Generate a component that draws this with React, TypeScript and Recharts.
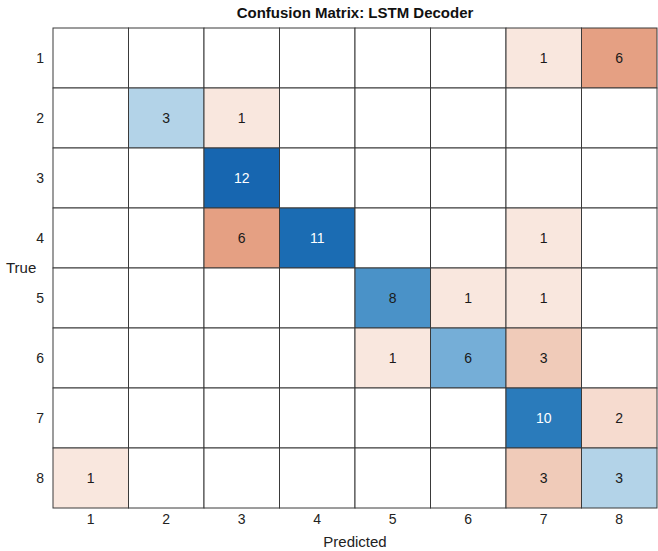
import React from "react";
import { ScatterChart, Scatter, XAxis, YAxis } from "recharts";

// Confusion matrix: rows = true class, columns = predicted class
const classes = [1, 2, 3, 4, 5, 6, 7, 8];
const row1 = [0, 0, 0, 0, 0, 0, 1, 6];
const row2 = [0, 3, 1, 0, 0, 0, 0, 0];
const row3 = [0, 0, 12, 0, 0, 0, 0, 0];
const row4 = [0, 0, 6, 11, 0, 0, 1, 0];
const row5 = [0, 0, 0, 0, 8, 1, 1, 0];
const row6 = [0, 0, 0, 0, 1, 6, 3, 0];
const row7 = [0, 0, 0, 0, 0, 0, 10, 2];
const row8 = [1, 0, 0, 0, 0, 0, 3, 3];
const matrix = [row1, row2, row3, row4, row5, row6, row7, row8];

const W = 658;
const H = 551;
const MARGIN = { top: 28, right: 1, left: 0, bottom: 0 };
const Y_AXIS_W = 53;
const X_AXIS_H = 43;
const CELL_W = (W - MARGIN.left - MARGIN.right - Y_AXIS_W) / 8;
const CELL_H = (H - MARGIN.top - MARGIN.bottom - X_AXIS_H) / 8;
const FONT = '"Liberation Sans", Arial, Helvetica, sans-serif';

const BLUES: Record<number, string> = {
  3: "#b3d3e8",
  6: "#75aed7",
  8: "#4a92c8",
  10: "#2a7bbb",
  11: "#1b6cb3",
  12: "#1766b0",
};
const ORANGES: Record<number, string> = {
  1: "#f9e7de",
  2: "#f6dbcf",
  3: "#f0cbb9",
  6: "#e5a083",
};

function cellColor(value: number, diag: boolean) {
  if (value === 0) return "#ffffff";
  return diag ? BLUES[value] ?? "#4a92c8" : ORANGES[value] ?? "#f0cbb9";
}

const cells = matrix.flatMap((row, i) =>
  row.map((v, j) => ({ x: classes[j], y: classes[i], value: v }))
);

const CellShape = (props: any) => {
  const { cx, cy, payload } = props;
  const diag = payload.x === payload.y;
  const v = payload.value;
  return (
    <g>
      <rect
        x={cx - CELL_W / 2}
        y={cy - CELL_H / 2}
        width={CELL_W}
        height={CELL_H}
        fill={cellColor(v, diag)}
        stroke="#3a3a3a"
        strokeWidth={1}
      />
      {v > 0 && (
        <text
          x={cx}
          y={cy}
          textAnchor="middle"
          dominantBaseline="central"
          fontSize={14}
          fontFamily={FONT}
          fill={v >= 10 ? "#ffffff" : "#1a1a1a"}
        >
          {v}
        </text>
      )}
    </g>
  );
};

export default function App() {
  return (
    <div style={{ position: "absolute", left: 0, top: 0, width: W, height: H, background: "#fff" }}>
      <div
        style={{
          position: "absolute",
          top: 4,
          left: MARGIN.left + Y_AXIS_W,
          width: CELL_W * 8,
          textAlign: "center",
          fontFamily: FONT,
          fontWeight: "bold",
          fontSize: 15,
          color: "#111",
        }}
      >
        Confusion Matrix: LSTM Decoder
      </div>
      <ScatterChart width={W} height={H} margin={MARGIN}>
        <XAxis
          type="number"
          dataKey="x"
          domain={[0.5, 8.5]}
          ticks={classes}
          axisLine={false}
          tickLine={false}
          tickSize={0}
          tickMargin={6}
          height={X_AXIS_H}
          tick={{ fontSize: 14, fontFamily: FONT, fill: "#222" }}
          label={{ value: "Predicted", position: "insideBottom", offset: 4, fontSize: 15, fontFamily: FONT, fill: "#222" }}
        />
        <YAxis
          type="number"
          dataKey="y"
          domain={[0.5, 8.5]}
          reversed
          ticks={classes}
          axisLine={false}
          tickLine={false}
          tickSize={0}
          tickMargin={9}
          width={Y_AXIS_W}
          tick={{ fontSize: 14, fontFamily: FONT, fill: "#222" }}
          label={{ value: "True", angle: 0, position: "insideLeft", offset: 6, fontSize: 15, fontFamily: FONT, fill: "#222" }}
        />
        <Scatter data={cells} shape={CellShape} isAnimationActive={false} />
      </ScatterChart>
    </div>
  );
}
